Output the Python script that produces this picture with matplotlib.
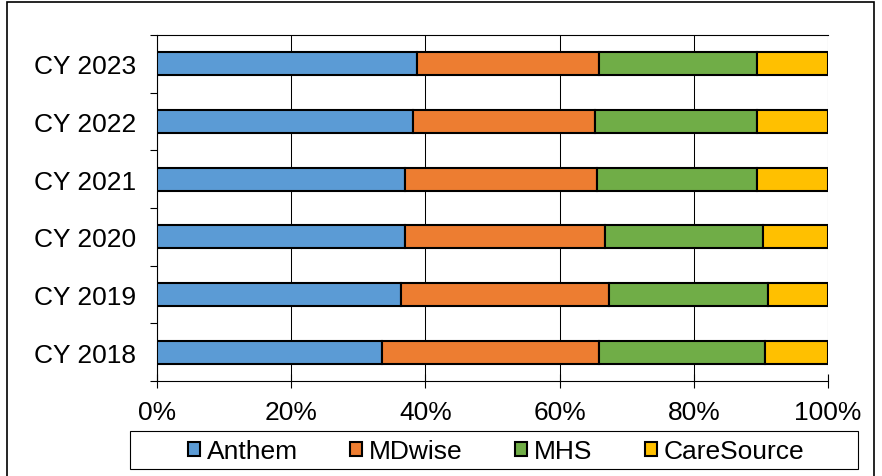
import numpy as np
import matplotlib
matplotlib.use('Agg')
import matplotlib.pyplot as plt
from matplotlib.patches import Rectangle

years = ['CY 2018', 'CY 2019', 'CY 2020', 'CY 2021', 'CY 2022', 'CY 2023']
plans = ['Anthem', 'MDwise', 'MHS', 'CareSource']
anthem = [33.5, 36.3, 36.9, 36.9, 38.1, 38.8]
mdwise = [32.4, 31.0, 29.8, 28.7, 27.2, 27.0]
mhs = [24.7, 23.8, 23.6, 23.8, 24.1, 23.6]
caresource = [9.4, 8.9, 9.7, 10.6, 10.6, 10.6]
colors = ['#5B9BD5', '#ED7D31', '#70AD47', '#FFC000']

plt.rcParams['font.family'] = ['Liberation Sans', 'DejaVu Sans']

fig = plt.figure(figsize=(8.82, 4.77), dpi=100)
ax = fig.add_axes([157 / 882, 1 - 382 / 477, 671 / 882, 346 / 477])

# outer chart border
fig.patches.append(Rectangle((7 / 882, -0.05), 867 / 882, 1 - 3 / 477 + 0.05,
                             transform=fig.transFigure, fill=False,
                             edgecolor='black', linewidth=1.2))
# legend border
fig.patches.append(Rectangle((130 / 882, 1 - 470 / 477), 728 / 882, 38 / 477,
                             transform=fig.transFigure, fill=False,
                             edgecolor='black', linewidth=0.8))

y = np.arange(len(years))
left = np.zeros(len(years))
for name, vals, col in zip(plans, [anthem, mdwise, mhs, caresource], colors):
    vals = np.array(vals)
    ax.barh(y, vals, left=left, height=0.4, color=col, edgecolor='black',
            linewidth=1.5, label=name, zorder=3)
    left += vals

ax.set_xlim(0, 100)
ax.set_ylim(-0.5, len(years) - 0.5)
ax.set_xticks([0, 20, 40, 60, 80, 100])
ax.set_xticklabels([f'{v}%' for v in [0, 20, 40, 60, 80, 100]])
ax.set_yticks(y)
ax.set_yticklabels(years)
ax.set_yticks(np.arange(-0.5, len(years), 1), minor=True)
ax.tick_params(axis='y', which='major', length=0, labelsize=19, pad=15)
ax.tick_params(axis='y', which='minor', length=5, width=0.8, direction='out')
ax.tick_params(axis='x', length=10, width=0.8, direction='inout', labelsize=19, pad=9)
ax.grid(axis='x', color='black', linewidth=0.75, zorder=0)
for s in ax.spines.values():
    s.set_linewidth(0.8)
ax.spines['right'].set_visible(False)

leg = fig.legend(loc='center', ncol=4, bbox_to_anchor=(496 / 882, 1 - 452 / 477),
                 fontsize=19, frameon=False,
                 handlelength=0.45, handleheight=0.45, handletextpad=0.25,
                 columnspacing=2.0, borderaxespad=0)

fig.savefig('out.png', dpi=100)
